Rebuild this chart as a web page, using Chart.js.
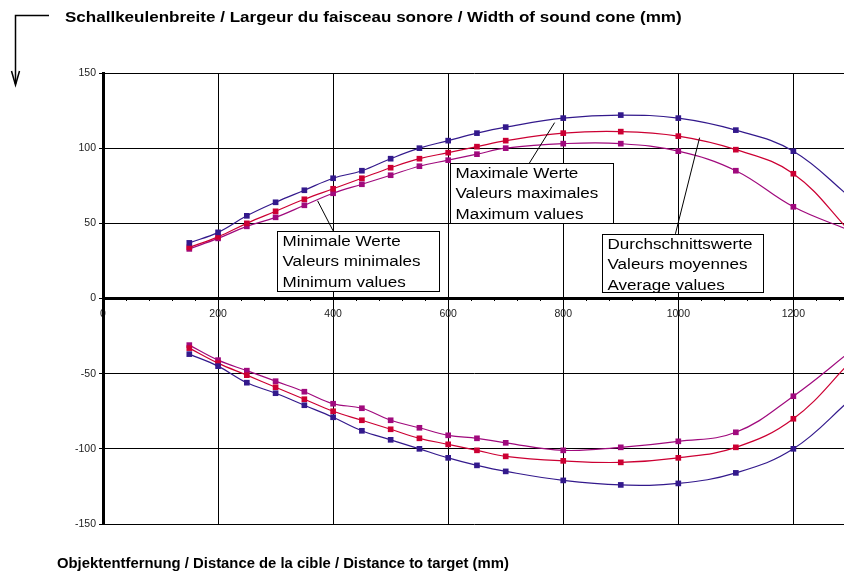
<!DOCTYPE html>
<html>
<head>
<meta charset="utf-8">
<script src="https://cdn.jsdelivr.net/npm/chart.js@4.4.1/dist/chart.umd.min.js"></script>
<style>
  html, body { margin: 0; padding: 0; background: #fff; }
  canvas { display: block; }
</style>
</head>
<body>
<canvas id="beamChart" width="844" height="574"></canvas>
<script>
// distance to target (mm)
const distances = [150, 200, 250, 300, 350, 400, 450, 500, 550, 600, 650, 700, 800, 900, 1000, 1100, 1200, 1300];

// upper half of the sound cone (mm)
const maxUpper = [37, 44, 55, 64, 72, 80, 85, 93, 100, 105, 110, 114, 120, 122, 120, 112, 98, 67];
const avgUpper = [34, 41, 50, 58, 66, 73, 80, 87, 93, 97, 101, 105, 110, 111, 108, 99, 83, 44];
const minUpper = [33, 40, 48, 54, 62, 70, 76, 82, 88, 92, 96, 100, 103, 103, 98, 85, 61, 45];

// lower half of the sound cone (mm)
const maxLower = [-37, -45, -56, -63, -71, -79, -88, -94, -100, -106, -111, -115, -121, -124, -123, -116, -100, -67];
const avgLower = [-33, -43, -51, -59, -67, -75, -81, -87, -93, -97, -101, -105, -108, -109, -106, -99, -80, -42];
const minLower = [-31, -41, -48, -55, -62, -70, -73, -81, -86, -91, -93, -96, -101, -99, -95, -89, -65, -35];

const yTicks = [-150, -100, -50, 0, 50, 100, 150];

const titleTop = 'Schallkeulenbreite / Largeur du faisceau sonore / Width of sound cone (mm)';
const titleBottom = 'Objektentfernung / Distance de la cible / Distance to target (mm)';

const navy = '#33198c';
const red = '#cc0033';
const magenta = '#a00a7d';

// label boxes, placed in data units
const notes = [
  { lines: ['Minimale Werte', 'Valeurs minimales', 'Minimum values'], box: [302, 45, 584, 5], from: [373, 65], to: [400, 45] },
  { lines: ['Maximale Werte', 'Valeurs maximales', 'Maximum values'], box: [604, 90, 886, 50], from: [785, 117], to: [741, 90] },
  { lines: ['Durchschnittswerte', 'Valeurs moyennes', 'Average values'], box: [868, 43, 1148, 4], from: [1037, 107], to: [995, 43] }
];

const FONT = '"Liberation Sans", Arial, Helvetica, sans-serif';

function series(values, color) {
  return {
    data: distances.map((d, i) => ({ x: d, y: values[i] })),
    borderColor: color,
    backgroundColor: color,
    borderWidth: 1.2,
    pointStyle: 'rect',
    pointRadius: 4,
    pointBorderWidth: 0,
    tension: 0.4,
    xAxisID: 'x',
    yAxisID: 'y'
  };
}

function stretchText(ctx, text, x, y, sx) {
  ctx.save();
  ctx.translate(x, y);
  ctx.scale(sx, 1);
  ctx.fillText(text, 0, 0);
  ctx.restore();
}

// keep the plot running right up to the canvas edge
function noSidePadding(scale) {
  scale.paddingLeft = 0;
  scale.paddingRight = 0;
}

const decorations = {
  id: 'decorations',
  afterDatasetsDraw(chart) {
    const ctx = chart.ctx;
    const xs = chart.scales.x;
    const ys = chart.scales.y;
    ctx.save();
    ctx.strokeStyle = '#000';
    ctx.lineWidth = 1;

    notes.forEach(n => {
      // leader line
      ctx.beginPath();
      ctx.moveTo(xs.getPixelForValue(n.from[0]), ys.getPixelForValue(n.from[1]));
      ctx.lineTo(xs.getPixelForValue(n.to[0]), ys.getPixelForValue(n.to[1]));
      ctx.stroke();

      const l = Math.round(xs.getPixelForValue(n.box[0])) + 0.5;
      const t = Math.round(ys.getPixelForValue(n.box[1])) + 0.5;
      const r = Math.round(xs.getPixelForValue(n.box[2])) + 0.5;
      const b = Math.round(ys.getPixelForValue(n.box[3])) + 0.5;
      ctx.fillStyle = '#fff';
      ctx.fillRect(l, t, r - l, b - t);
      ctx.strokeRect(l, t, r - l, b - t);

      ctx.fillStyle = '#000';
      ctx.font = '15.5px ' + FONT;
      ctx.textBaseline = 'alphabetic';
      n.lines.forEach((line, i) => {
        stretchText(ctx, line, l + 5, t + 14 + i * 20.5, 1.1);
      });
    });

    // axis titles
    ctx.fillStyle = '#000';
    ctx.textBaseline = 'middle';
    ctx.font = 'bold 15px ' + FONT;
    stretchText(ctx, titleTop, 65, 18, 1.135);
    ctx.font = 'bold 14px ' + FONT;
    stretchText(ctx, titleBottom, 57, 564, 1.06);

    // arrow from title down the axis
    ctx.lineWidth = 1.5;
    ctx.beginPath();
    ctx.moveTo(49, 15.5);
    ctx.lineTo(15.5, 15.5);
    ctx.lineTo(15.5, 84);
    ctx.stroke();
    ctx.beginPath();
    ctx.moveTo(11.5, 71);
    ctx.lineTo(15.5, 85);
    ctx.lineTo(19.5, 71);
    ctx.stroke();
    ctx.restore();
  }
};

const tickFont = { family: FONT, size: 10.5 };

new Chart(document.getElementById('beamChart'), {
  type: 'line',
  data: {
    datasets: [
      series(maxUpper, navy),
      series(avgUpper, red),
      series(minUpper, magenta),
      series(maxLower, navy),
      series(avgLower, red),
      series(minLower, magenta)
    ]
  },
  options: {
    responsive: false,
    animation: false,
    layout: { autoPadding: false, padding: { top: 73, bottom: 50, left: 0, right: 0 } },
    plugins: {
      legend: { display: false },
      tooltip: { enabled: false }
    },
    scales: {
      x: {
        type: 'linear',
        position: { y: 0 },
        min: 0,
        max: 1288,
        afterFit: noSidePadding,
        grid: { color: '#000', lineWidth: 1, tickLength: 3 },
        border: { color: '#000', width: 3 },
        ticks: {
          stepSize: 200,
          includeBounds: false,
          padding: 6,
          color: '#222',
          font: tickFont,
          maxRotation: 0,
          callback: v => String(v)
        }
      },
      x2: {
        type: 'linear',
        axis: 'x',
        position: { y: 0 },
        min: 0,
        max: 1288,
        afterFit: noSidePadding,
        grid: { drawOnChartArea: false, color: '#000', tickLength: 2 },
        border: { display: false },
        ticks: { display: false, stepSize: 40, includeBounds: false }
      },
      y: {
        type: 'linear',
        position: 'left',
        min: -150,
        max: 150,
        afterFit: scale => { scale.width = 103; },
        afterBuildTicks: scale => { scale.ticks = yTicks.map(v => ({ value: v })); },
        grid: { color: '#000', lineWidth: 1, tickLength: 4 },
        border: { color: '#000', width: 3 },
        ticks: {
          padding: 3,
          color: '#222',
          font: tickFont,
          callback: v => String(v)
        }
      }
    }
  },
  plugins: [decorations]
});
</script>
</body>
</html>
